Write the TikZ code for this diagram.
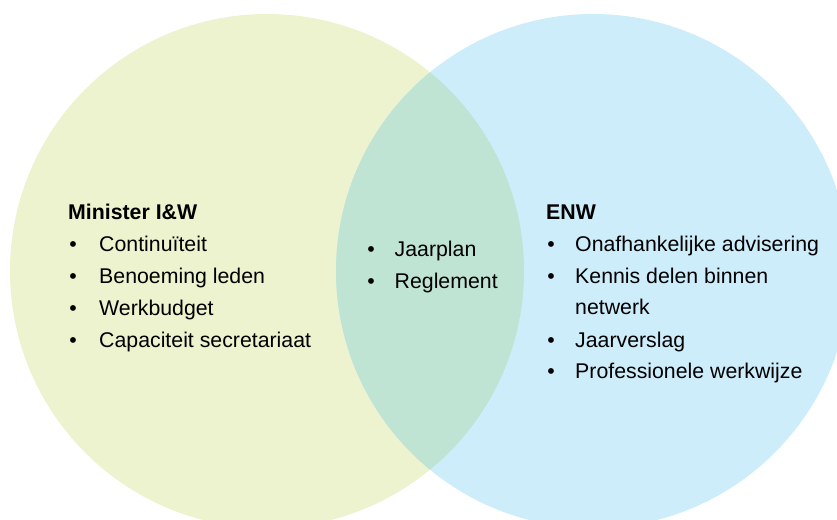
\documentclass[tikz,border=0pt]{standalone}
\usepackage{fontspec}
\setmainfont{Liberation Sans}
\definecolor{leftfill}{RGB}{237,243,206}
\definecolor{rightfill}{RGB}{205,237,250}
\definecolor{midfill}{RGB}{191,228,212}
\begin{document}
\begin{tikzpicture}[x=1bp,y=-1bp,
  txt/.style={anchor=base west,inner sep=0pt,font=\fontsize{21.3bp}{25bp}\selectfont},
  ttl/.style={txt,font=\fontsize{21.3bp}{25bp}\selectfont\bfseries},
  bul/.style={anchor=base,inner sep=0pt,font=\fontsize{21.3bp}{25bp}\selectfont}]
\useasboundingbox (0,0) rectangle (837,520);
\begin{scope}
\clip (0,0) rectangle (837,520);
\fill[leftfill] (267,271) circle[radius=257];
\fill[rightfill] (593,271) circle[radius=257];
\begin{scope}
\clip (267,271) circle[radius=257];
\fill[midfill] (593,271) circle[radius=257];
\end{scope}
\end{scope}
% left
\node[ttl] (lt) at (68,220) {Minister I\&W};
\node[bul] (lb1) at (73,252) {•};
\node[txt] (l1) at (99,252) {Continuïteit};
\node[bul] (lb2) at (73,284) {•};
\node[txt] (l2) at (99,284) {Benoeming leden};
\node[bul] (lb3) at (73,315.5) {•};
\node[txt] (l3) at (99,315.5) {Werkbudget};
\node[bul] (lb4) at (73,347) {•};
\node[txt] (l4) at (99,347) {Capaciteit secretariaat};
% middle
\node[bul] (mb1) at (371,256.7) {•};
\node[txt] (m1) at (394.5,256.7) {Jaarplan};
\node[bul] (mb2) at (371,288.3) {•};
\node[txt] (m2) at (394.5,288.3) {Reglement};
% right
\node[ttl] (rt) at (546,219.5) {ENW};
\node[bul] (rb1) at (551,252) {•};
\node[txt] (r1) at (575,252) {Onafhankelijke advisering};
\node[bul] (rb2) at (551,283.5) {•};
\node[txt] (r2) at (575,283.5) {Kennis delen binnen};
\node[txt] (r2b) at (575,315) {netwerk};
\node[bul] (rb3) at (551,347) {•};
\node[txt] (r3) at (575,347) {Jaarverslag};
\node[bul] (rb4) at (551,378.5) {•};
\node[txt] (r4) at (575,378.5) {Professionele werkwijze};
\end{tikzpicture}
\end{document}
